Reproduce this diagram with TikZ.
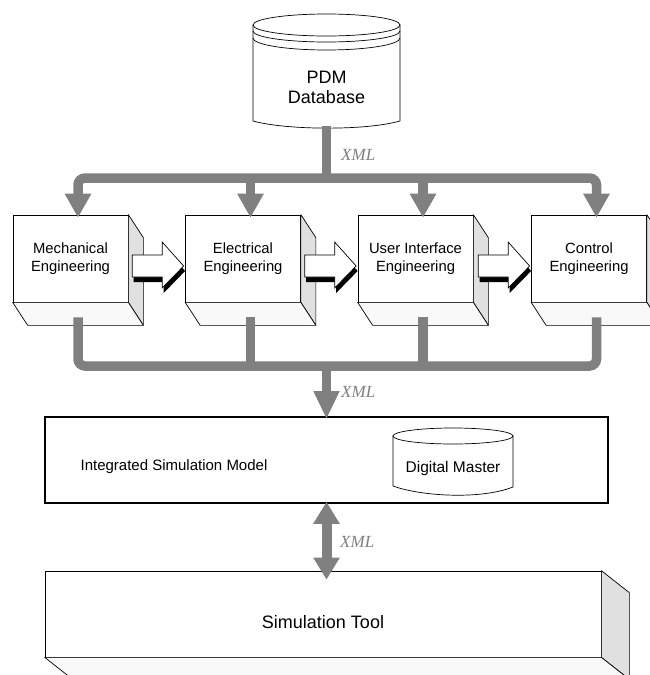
\documentclass[tikz,border=0pt]{standalone}
\usepackage{fontspec}
\setmainfont{Liberation Sans}
\newfontfamily\xmlfont{Liberation Serif}
\usetikzlibrary{arrows.meta,calc}
\definecolor{busgray}{HTML}{808080}
\definecolor{sidegray}{HTML}{E0E0E0}
\definecolor{basegray}{HTML}{F9F9F9}
\definecolor{xmlgray}{HTML}{808080}

% side and bottom faces of an extruded box
\newcommand\boxfaces[3]{%
  \filldraw[face, fill=sidegray] (#1.north east) -- ++(#2,#3) -- ($(#1.south east)+(#2,#3)$) -- (#1.south east) -- cycle;
  \filldraw[face, fill=basegray] (#1.south west) -- (#1.south east) -- ++(#2,#3) -- ($(#1.south west)+(#2,#3)$) -- cycle;
}
% hollow block arrow with a dark drop shadow, pointing at the west side of #1
\newcommand\flowarrow[1]{%
  \begin{scope}[shift={($(#1.west)+(0,7.5)$)}]
    \fill[black, shift={(1.5,5)}] (-53,-11) -- (-23,-11) -- (-23,-24) -- (-1.5,0) -- (-23,22) -- (-23,11) -- (-53,11) -- cycle;
    \filldraw[flow] (-53,-11) -- (-23,-11) -- (-23,-24) -- (-1.5,0) -- (-23,22) -- (-23,11) -- (-53,11) -- cycle;
  \end{scope}
}

\begin{document}
\begin{tikzpicture}[x=1pt,y=-1pt,
  engbox/.style={draw=black, fill=white, line width=0.7pt, minimum width=115pt,
    minimum height=87pt, inner sep=0pt, align=center, font=\fontsize{14.8}{17.5}\selectfont},
  face/.style={draw=black, line width=0.7pt, line join=round},
  flow/.style={fill=white, draw=black, line width=0.7pt, line join=miter},
  bus/.style={draw=busgray, line width=9.5pt, rounded corners=7pt},
  bigtip/.style={-{Triangle[width=25pt,length=24pt]}},
  xmllabel/.style={text=xmlgray, font=\xmlfont\itshape\fontsize{17}{17}\selectfont,
    anchor=west, inner sep=0pt},
  cyl/.style={draw=black, fill=white, line width=0.7pt},
]
\clip (0,0) rectangle (650,675);
\fill[white] (0,0) rectangle (650,675);

% ---- PDM database cylinder
\path[cyl] (253,25) -- (253,121) .. controls (285,130) and (365,131) .. (400,121) -- (400,25) -- cycle;
\draw[cyl] (326.5,25) ellipse [x radius=73.5, y radius=11];
\draw[line width=0.7pt] (253,31) arc[start angle=180, end angle=0, x radius=73.5, y radius=11];
\draw[line width=0.7pt] (253,38) arc[start angle=180, end angle=0, x radius=73.5, y radius=12];
\node[font=\fontsize{18}{20}\selectfont, align=center] (pdm) at (326.5,87) {PDM\\Database};
\coordinate (pdmbot) at (326.5,126);

% ---- engineering boxes
\node[engbox] (mech) at (70.5,258.5) {Mechanical\\Engineering};
\node[engbox] (elec) at (243,258.5) {Electrical\\Engineering};
\node[engbox] (ui)   at (415.5,258.5) {User Interface\\Engineering};
\node[engbox] (ctrl) at (589,258.5) {Control\\Engineering};
\foreach \b in {mech,elec,ui,ctrl} {\boxfaces{\b}{15}{23}}

\flowarrow{elec}
\flowarrow{ui}
\flowarrow{ctrl}

% ---- integrated model with digital master
\node[draw=black, line width=1.6pt, fill=white, minimum width=563pt, minimum height=86pt] (integ) at (326.5,460) {};
\node[font=\fontsize{15}{17}\selectfont] (intlabel) at (174,467) {Integrated Simulation Model};
\path[cyl] (393,436) -- (393,486) .. controls (420,496) and (480,500) .. (513,487) -- (513,436) -- cycle;
\draw[cyl] (453,436) ellipse [x radius=60, y radius=8];
\node[font=\fontsize{15.5}{17}\selectfont] (dm) at (453,468) {Digital Master};

% ---- simulation tool
\node[draw=black, fill=white, line width=0.7pt, minimum width=556pt, minimum height=86pt] (sim) at (323,614) {};
\boxfaces{sim}{28}{22}
\node[font=\fontsize{18}{20}\selectfont] (simtext) at (323,622) {Simulation Tool};

% ---- XML distribution from the database
\coordinate (busT) at (326.5,178);
\coordinate (mechin) at ($(mech.north)+(7.5,3)$);
\coordinate (elecin) at ($(elec.north)+(7.5,3)$);
\coordinate (uiin)   at ($(ui.north)+(7.5,3)$);
\coordinate (ctrlin) at ($(ctrl.north)+(7.5,3)$);
\draw[bus] (pdmbot) -- (busT);
\draw[bus, {Triangle[width=25pt,length=24pt]}-{Triangle[width=25pt,length=24pt]}] (mechin) |- (busT) -| (ctrlin);
\draw[bus, bigtip] (elecin |- busT) -- (elecin);
\draw[bus, bigtip] (uiin |- busT) -- (uiin);
\node[xmllabel] (xml1) at (341,155) {XML};

% ---- XML collection into the integrated model
\coordinate (busB) at (326.5,366);
\coordinate (mechout) at ($(mech.south)+(7.5,15)$);
\coordinate (elecout) at ($(elec.south)+(7.5,15)$);
\coordinate (uiout)   at ($(ui.south)+(7.5,15)$);
\coordinate (ctrlout) at ($(ctrl.south)+(7.5,15)$);
\draw[bus] (mechout) |- (busB) -| (ctrlout);
\draw[bus] (elecout) -- ($(elecout |- busB)+(0,4)$);
\draw[bus] (uiout) -- ($(uiout |- busB)+(0,4)$);
\draw[bus, -{Triangle[width=24pt,length=28pt]}] (busB) -- ($(integ.north)+(0,3)$);
\node[xmllabel] (xml2) at (341,392) {XML};

% ---- exchange with the simulation tool
\draw[draw=busgray, line width=10pt, {Triangle[width=25pt,length=22pt]}-{Triangle[width=25pt,length=22pt]}]
  ($(integ.south)+(0,-2)$) -- ($(integ.south |- sim.north)+(0,9)$);
\node[xmllabel] (xml3) at (340,542) {XML};
\end{tikzpicture}
\end{document}
